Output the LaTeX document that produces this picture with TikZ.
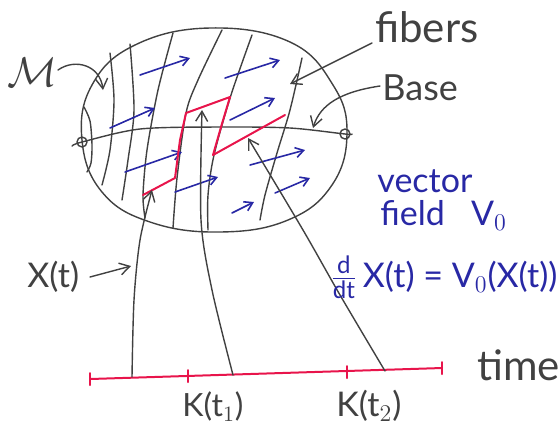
\documentclass[tikz,border=0pt]{standalone}
\usepackage{fontspec}
\setmainfont{Lato}
\usetikzlibrary{arrows.meta}
\definecolor{vblue}{RGB}{40,40,165}
\definecolor{hred}{RGB}{232,20,75}
\definecolor{pen}{RGB}{65,65,65}
\begin{document}
\begin{tikzpicture}[x=0.5pt,y=-0.5pt, line cap=round, line join=round,
  pen/.style={draw=pen, line width=0.7pt},
  tip/.style={-{Straight Barb[length=5pt,width=6pt]}},
  vec/.style={draw=vblue, line width=0.8pt, -{Straight Barb[length=4pt,width=5pt]}},
  traj/.style={draw=hred, line width=1pt},
  lbl/.style={inner sep=0pt, text=pen},
  blbl/.style={inner sep=0pt, text=vblue}]
\useasboundingbox (0,0) rectangle (560,430);

% manifold outline
\draw[pen] plot[smooth cycle, tension=0.7] coordinates {(82,140) (92,85) (135,45) (210,28) (290,42) (333,85) (347,133) (332,185) (288,220) (220,232) (150,222) (102,192)};
% small left lobe
\draw[pen] plot[smooth] coordinates {(84,107) (90,121) (92,145) (91,163) (87,172)};
% base
\draw[pen] plot[smooth] coordinates {(72,146) (82,142) (140,129) (220,127) (290,128) (345,134) (352,134)};
\node[draw=pen, circle, inner sep=0pt, minimum size=5pt, line width=0.7pt] (pl) at (82,142) {};
\node[draw=pen, circle, inner sep=0pt, minimum size=5pt, line width=0.7pt] (pr) at (345,134) {};

% fibers
\draw[pen] plot[smooth] coordinates {(110,53) (114,100) (110,150) (102,185)};
\draw[pen] plot[smooth] coordinates {(130,44) (134,110) (128,160) (122,200)};
\draw[pen] plot[smooth] coordinates {(173,33) (158,90) (147,150) (143,195) (145,218)};
\draw[pen] plot[smooth] coordinates {(222,30) (198,80) (186,113) (177,178) (173,228)};
\draw[pen] plot[smooth] coordinates {(252,35) (231,95) (214,155) (208,195) (208,230)};
\draw[pen] plot[smooth] coordinates {(302,58) (290,110) (277,153) (265,195) (260,220)};

% vector field
\draw[vec] (140,75) -- (190,58);
\draw[vec] (225,78) -- (280,60);
\draw[vec] (110,128) -- (155,108);
\draw[vec] (230,120) -- (275,98);
\draw[vec] (125,172) -- (182,152);
\draw[vec] (250,165) -- (305,150);
\draw[vec] (175,192) -- (218,177);
\draw[vec] (275,193) -- (310,178);
\draw[vec] (232,213) -- (254,202);

% red trajectory
\draw[traj] (143,195) -- (175,178) -- (180,140) -- (186,113) -- (230,97)
            -- (221,127) -- (213,155) -- (285,115);

% time line
\coordinate (t0) at (90,379);
\coordinate (t3) at (442,368);
\draw[traj] (t0) -- (t3);
\draw[traj] (90,373) -- (90,385);
\draw[traj] (188,370) -- (188,382);
\draw[traj] (347,366) -- (347,378);
\draw[traj] (442,362) -- (442,374);

% lines from time to trajectory
\coordinate (k0) at (132,377);
\coordinate (k1) at (233,375);
\coordinate (k2) at (385,371);
\coordinate (h0) at (152,190);
\coordinate (h1) at (202,110);
\coordinate (h2) at (248,138);
\draw[pen, tip] plot[smooth] coordinates {(k0) (134,300) (140,240) (h0)};
\draw[pen, tip] plot[smooth] coordinates {(k1) (212,290) (201,220) (h1)};
\draw[pen, tip] plot[smooth] coordinates {(k2) (340,295) (303,230) (h2)};

% labels
\node[lbl, font=\fontsize{22}{24}\selectfont] (M) at (32,72) {$\mathcal{M}$};
\coordinate (Mt) at (103,90);
\draw[pen, tip] (58,70) .. controls (75,58) and (100,65) .. (Mt);

\node[lbl, anchor=base west, font=\fontsize{21}{24}\selectfont] (fib) at (375,42) {fibers};
\coordinate (fibt) at (290,84);
\draw[pen, tip] (372,43) -- (fibt);

\node[lbl, anchor=base west, font=\fontsize{18}{22}\selectfont] (base) at (382,100) {Base};
\coordinate (baset) at (313,128);
\draw[pen, tip] (380,86) .. controls (340,92) and (320,105) .. (baset);

\node[blbl, anchor=base west, font=\fontsize{17}{20}\selectfont] (vf1) at (377,192) {vector};
\node[blbl, anchor=base west, font=\fontsize{17}{20}\selectfont] (vf2) at (380,225) {field\ \ \ V$_0$};

\node[lbl, anchor=base west, font=\fontsize{17}{20}\selectfont] (Xt) at (27,287) {X(t)};
\coordinate (Xtt) at (131,266);
\draw[pen, tip] (90,277) -- (Xtt);

\node[blbl, anchor=base west, font=\fontsize{17}{20}\selectfont] (eq) at (330,287)
  {$\frac{\mbox{\fontsize{12}{12}\selectfont d}}{\mbox{\fontsize{12}{12}\selectfont dt}}$\,X(t) = V$_0$(X(t))};

\node[lbl, anchor=base west, font=\fontsize{21}{24}\selectfont] (time) at (477,380) {time};
\node[lbl, anchor=base west, font=\fontsize{16}{20}\selectfont] (K1) at (182,416) {K(t$_1$)};
\node[lbl, anchor=base west, font=\fontsize{17}{20}\selectfont] (K2) at (336,416) {K(t$_2$)};
\end{tikzpicture}
\end{document}
